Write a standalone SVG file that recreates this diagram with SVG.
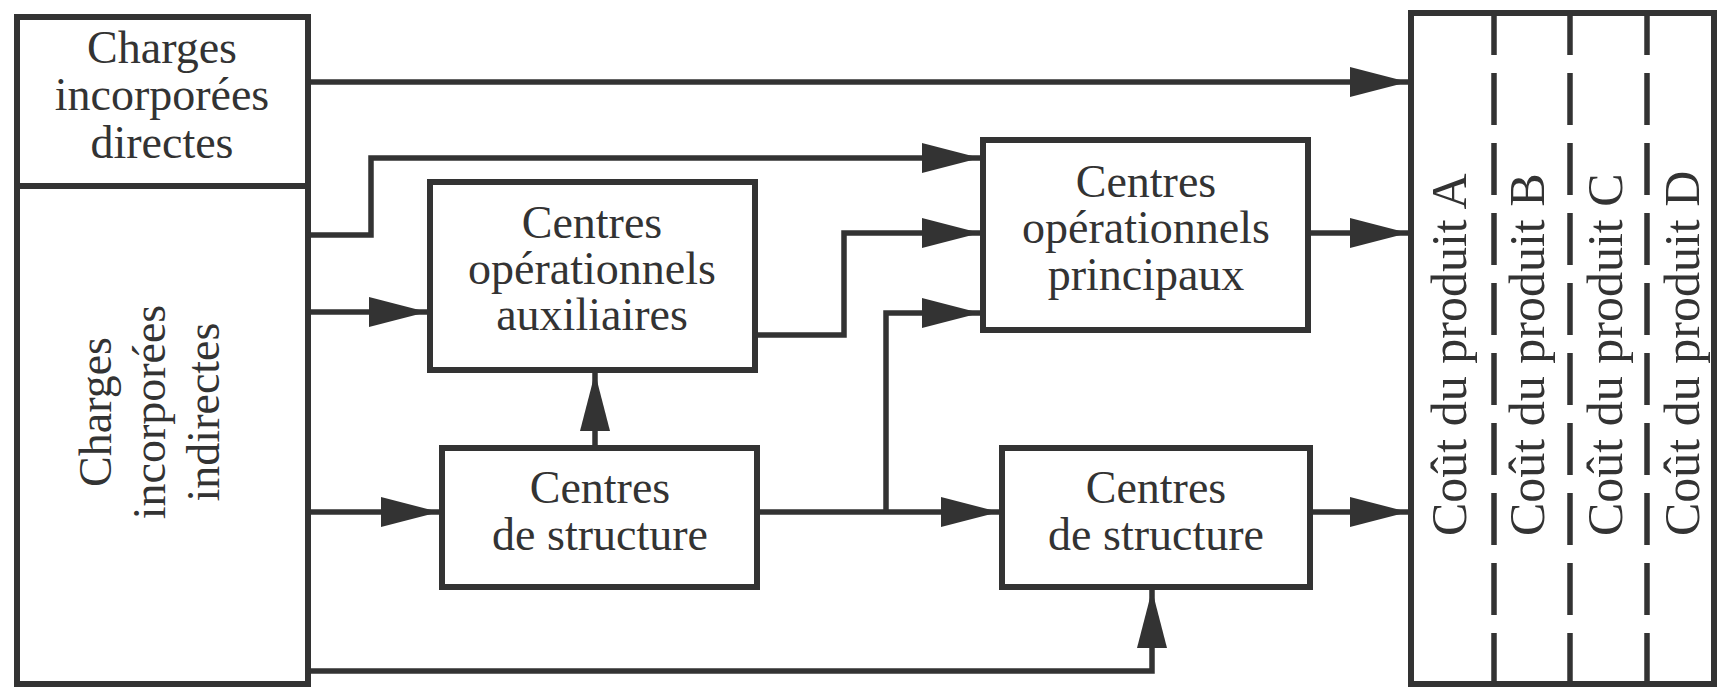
<svg xmlns="http://www.w3.org/2000/svg" width="1717" height="688" viewBox="0 0 1717 688">
<style>
.box{fill:none;stroke:#333;stroke-width:6}
.ln{fill:none;stroke:#333;stroke-width:5.5}
.dash{fill:none;stroke:#333;stroke-width:5.5;stroke-dasharray:52 18;stroke-dashoffset:10}
text{font-family:"Liberation Serif","Times New Roman",serif;font-size:46px;fill:#333}
.c{text-anchor:middle}
.v{font-size:50px}
</style>
<defs>
<marker id="ah" markerUnits="userSpaceOnUse" markerWidth="60" markerHeight="32" refX="58" refY="15" orient="auto">
<path d="M0,0 L58,15 L0,30 Z" fill="#333"/>
</marker>
</defs>
<rect width="1717" height="688" fill="#fff"/>
<g id="charges-directes">
<rect class="box" x="17" y="17" width="291" height="169"/>
<text class="c" x="162" y="63">Charges</text>
<text class="c" x="162" y="110">incorporées</text>
<text class="c" x="162" y="158">directes</text>
</g>
<g id="charges-indirectes">
<rect class="box" x="17" y="186" width="291" height="498"/>
<text class="c" transform="rotate(-90 111 412)" x="111" y="412">Charges</text>
<text class="c" transform="rotate(-90 165 412)" x="165" y="412">incorporées</text>
<text class="c" transform="rotate(-90 219 412)" x="219" y="412">indirectes</text>
</g>
<g id="centres-auxiliaires">
<rect class="box" x="430" y="182" width="325" height="188"/>
<text class="c" x="592" y="238">Centres</text>
<text class="c" x="592" y="284">opérationnels</text>
<text class="c" x="592" y="330">auxiliaires</text>
</g>
<g id="centres-structure-1">
<rect class="box" x="442" y="448" width="315" height="139"/>
<text class="c" x="600" y="503">Centres</text>
<text class="c" x="600" y="550">de structure</text>
</g>
<g id="centres-principaux">
<rect class="box" x="983" y="140" width="325" height="190"/>
<text class="c" x="1146" y="197">Centres</text>
<text class="c" x="1146" y="243">opérationnels</text>
<text class="c" x="1146" y="290">principaux</text>
</g>
<g id="centres-structure-2">
<rect class="box" x="1002" y="448" width="308" height="139"/>
<text class="c" x="1156" y="503">Centres</text>
<text class="c" x="1156" y="550">de structure</text>
</g>
<g id="couts-produits">
<rect class="box" x="1411" y="13" width="303" height="671"/>
<line class="dash" x1="1494" y1="13" x2="1494" y2="684"/>
<line class="dash" x1="1570" y1="13" x2="1570" y2="684"/>
<line class="dash" x1="1647" y1="13" x2="1647" y2="684"/>
<text class="v" transform="rotate(-90 1466 536)" x="1466" y="536">Coût du produit A</text>
<text class="v" transform="rotate(-90 1544 536)" x="1544" y="536">Coût du produit B</text>
<text class="v" transform="rotate(-90 1622 536)" x="1622" y="536">Coût du produit C</text>
<text class="v" transform="rotate(-90 1699 536)" x="1699" y="536">Coût du produit D</text>
</g>
<g id="connectors">
<path class="ln" d="M308,82 H1408" marker-end="url(#ah)"/>
<path class="ln" d="M308,235 H371 V158 H980" marker-end="url(#ah)"/>
<path class="ln" d="M308,312 H427" marker-end="url(#ah)"/>
<path class="ln" d="M308,512 H439" marker-end="url(#ah)"/>
<path class="ln" d="M308,671 H1152 V590" marker-end="url(#ah)"/>
<path class="ln" d="M595,448 V373" marker-end="url(#ah)"/>
<path class="ln" d="M755,335 H844 V233 H980" marker-end="url(#ah)"/>
<path class="ln" d="M757,512 H999" marker-end="url(#ah)"/>
<path class="ln" d="M886,512 V313 H980" marker-end="url(#ah)"/>
<path class="ln" d="M1308,233 H1408" marker-end="url(#ah)"/>
<path class="ln" d="M1310,512 H1408" marker-end="url(#ah)"/>
</g>
</svg>
